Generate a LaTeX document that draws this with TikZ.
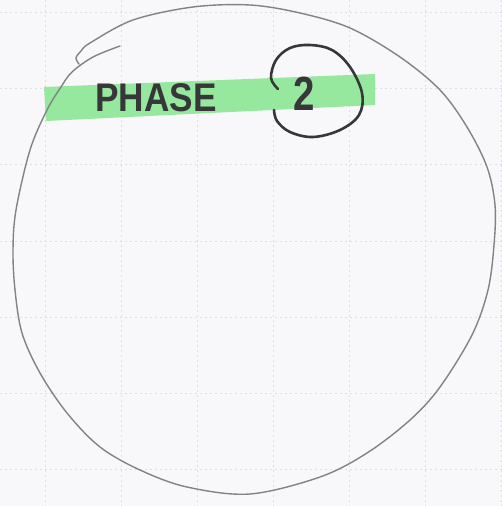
\documentclass[tikz,border=0pt]{standalone}
\usepackage{fontspec}
\setmainfont{Liberation Sans}
\definecolor{paper}{RGB}{248,248,250}
\definecolor{gridc}{RGB}{222,222,228}
\definecolor{pencil}{RGB}{130,130,135}
\definecolor{marker}{RGB}{55,55,58}
\definecolor{hilite}{RGB}{150,232,158}
\tikzset{
  gridline/.style={gridc, line width=0.6pt, dash pattern=on 2pt off 3pt},
  pencilline/.style={pencil, line width=1.4pt, line cap=round, line join=round},
  markerline/.style={marker, line width=2.6pt, line cap=round, line join=round},
  handtext/.style={text=marker, inner sep=0pt, font=\fontsize{40}{40}\selectfont\bfseries},
}
\begin{document}
\begin{tikzpicture}[x=1pt,y=-1pt]
\useasboundingbox (0,0) rectangle (502,506);
\fill[paper] (0,0) rectangle (502,506);
% faint grid of the paper
\foreach \g in {45,121,197,273,349,425,501} {\draw[gridline] (\g,0) -- (\g,506);}
\foreach \g in {12,88,164,241,317,393,469} {\draw[gridline] (0,\g) -- (502,\g);}
% green highlighter band
\fill[hilite] (44,87) -- (375,74) -- (375,105) -- (46,121) -- cycle;
% big pencil circle: one stroke, starting with a small curl at the top left
% and ending just inside its start
\draw[pencilline] plot[smooth, tension=0.55] coordinates {
  (79,64) (76,58) (81,51) (90,43) (133,20) (193,7) (250,5) (300,13) (350,28)
  (400,57) (440,90) (467,127) (487,167) (495,205) (494,245) (488,290)
  (472,335) (440,387) (410,420) (367,453) (320,477) (250,494) (187,487)
  (140,470) (100,447) (67,413) (40,373) (22,333) (15,290) (13,250) (16,210)
  (30,150) (47,110) (61,87) (72,72) (93,57) (120,46)};
% texts
\node[handtext, anchor=base, xscale=0.88] (phase) at (156,111) {PHASE};
\node[handtext, anchor=base, font=\fontsize{48}{48}\selectfont\bfseries, xscale=0.8] (two) at (304,110) {2};
% hand-drawn ring round the 2
\draw[markerline] plot[smooth, tension=0.6] coordinates {
  (278,89) (271,78) (276,60) (290,48) (310,45) (332,50) (350,67) (362,93)
  (359,115) (340,130) (313,137) (290,132) (277,121) (274,110)};
\end{tikzpicture}
\end{document}
